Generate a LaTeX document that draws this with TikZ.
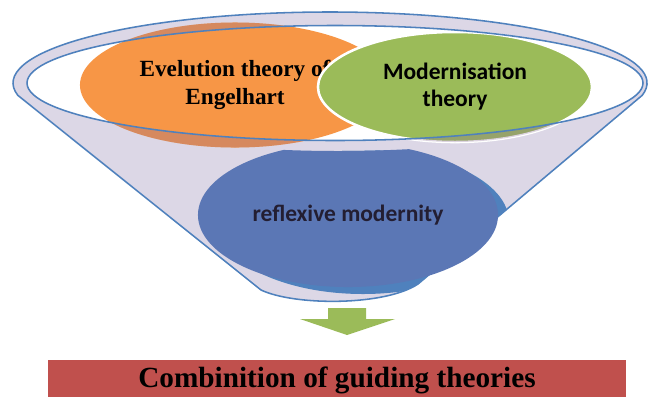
\documentclass[tikz,border=0pt]{standalone}
\usepackage{fontspec}
\setmainfont{Liberation Serif}
\newfontfamily\calibri{Carlito}
\usepackage{xcolor}
\definecolor{Jaffa}{HTML}{F79646}
\definecolor{Olive Drab}{HTML}{9BBB59}
\definecolor{San Marino}{HTML}{5B77B5}
\definecolor{Havelock}{HTML}{4F81BD}
\definecolor{Lavender Grey}{HTML}{DCD7E6}
\definecolor{Chestnut}{HTML}{C0504D}
\definecolor{Plum Shade}{HTML}{8C6E96}
\definecolor{Midnight Ink}{HTML}{231E32}
\colorlet{cOrange}{Jaffa}
\colorlet{cGreen}{Olive Drab}
\colorlet{cBlue}{San Marino}
\colorlet{cShine}{Havelock}
\colorlet{cLine}{Havelock}
\colorlet{cLav}{Lavender Grey}
\colorlet{cRed}{Chestnut}
\colorlet{cShade}{Plum Shade}
\colorlet{cInk}{Midnight Ink}
\usepackage{tikz}
\usetikzlibrary{calc, shapes.geometric, positioning}
\newcommand{\funneloutline}{($(330,83)+(170:317 and 71)$) -- (261,290)
	.. controls (295,306) and (385,306) .. (418,284)
	-- ($(330,83)+(10:317 and 71)$) arc[start angle=10, end angle=-190, x radius=317, y radius=71] -- cycle}
\newcommand{\funnelhole}{(335,83) ellipse [x radius=308, y radius=57.5]}
\tikzset{
	rim/.style={
		draw=cLine,
		line width=1.1pt
	},
	bubble/.style={
		ellipse,
		inner sep=0pt,
		align=center
	},
	serifbold/.style={
		font=\bfseries\fontsize{16.5}{19.8}\selectfont
	},
	sansbold/.style={
		font=\calibri\bfseries\fontsize{16.7}{19.2}\selectfont
	}
}

\begin{document}
\begin{tikzpicture}[x=0.025cm, y=-0.025cm]
\useasboundingbox (0,0) rectangle (648,396);
% ---
% funnel
% ---
\fill[cLav] \funneloutline;
\draw[rim] \funneloutline;
\fill[white] \funnelhole;

% ---
% bubbles
% ---
\begin{scope}[even odd rule]
	\clip (0,0) rectangle (648,396) (338,80) ellipse [x radius=312, y radius=71];
	\begin{scope}
		\clip \funneloutline;
		\fill[cShine] (363,222) ellipse [x radius=146, y radius=72];
	\end{scope}
	\node[bubble, sansbold, fill=cBlue, text=cInk, minimum width=7.5cm, minimum height=3.6cm] at (348,215) (reflexive) {reflexive modernity};
\end{scope}
\node[bubble, serifbold, fill=cOrange, minimum width=7.75cm, minimum height=3.125cm] at (235,85) (evolution) {Evelution theory of\\Engelhart};
\node[bubble, sansbold, fill=cGreen, draw=white, line width=1.8pt, minimum width=6.85cm, minimum height=2.75cm] at (455,87) (modern) {Modernisation\\theory};

\begin{scope}
	\clip (evolution.center) ellipse [x radius=155, y radius=62.5];
	\fill[cShade, fill opacity=.3, even odd rule] \funneloutline \funnelhole;
\end{scope}
\begin{scope}
	\clip (modern.center) ellipse [x radius=137, y radius=55];
	\fill[cShade, fill opacity=.3, even odd rule] \funneloutline \funnelhole;
\end{scope}
\draw[rim] \funnelhole;

% ---
% result
% ---
\fill[cGreen] (328,308) -- (366,308) -- (366,319) -- (395,319) -- (347,335) -- (300,319) -- (328,319) -- cycle;
\node[fill=cRed, minimum width=14.45cm, minimum height=1cm, font=\bfseries\fontsize{20.8}{24}\selectfont] at (337,380) (result) {Combinition of guiding theories};
\end{tikzpicture}
\end{document}
